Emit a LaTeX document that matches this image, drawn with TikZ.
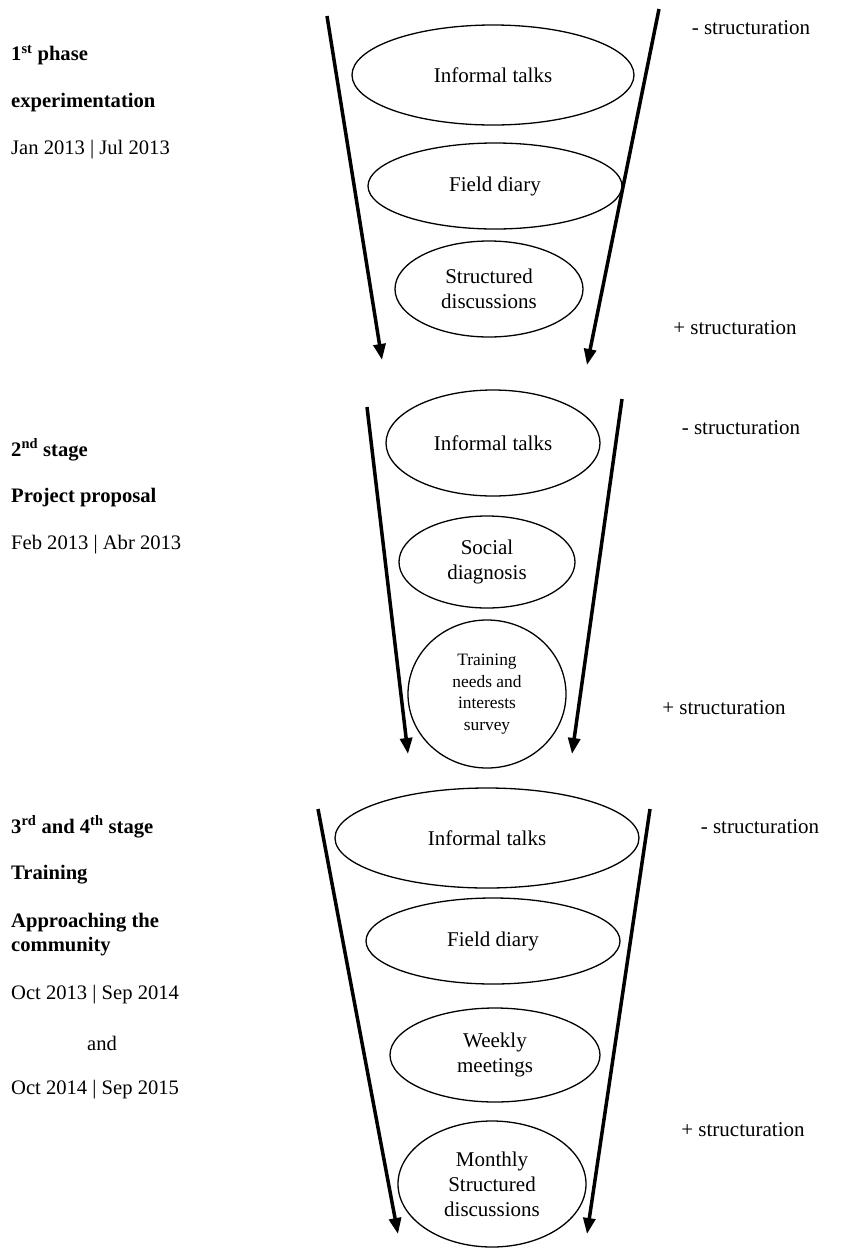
\documentclass[tikz,border=0pt]{standalone}
\usepackage{fontspec}
\setmainfont{Liberation Serif}
\usetikzlibrary{shapes.geometric,arrows.meta}
\begin{document}
\begin{tikzpicture}[x=1pt,y=-1pt,
 stage/.style={ellipse,draw,line width=1.3pt,inner sep=0pt,align=center,font=\fontsize{21}{25}\selectfont},
 small/.style={font=\fontsize{17.4}{21.6}\selectfont},
 flow/.style={line width=3.5pt,-{Triangle[length=16pt,width=12pt]}},
 lbl/.style={anchor=west,inner sep=0pt,align=left,font=\fontsize{20.6}{24}\selectfont},
 lblb/.style={lbl,font=\fontsize{20.6}{24}\selectfont\bfseries},
 side/.style={inner sep=0pt,font=\fontsize{21}{25}\selectfont}]
\useasboundingbox (0,0) rectangle (860,1248);

% ---------- Section 1 ----------
\node[lblb] (t1a) at (11,55) {1\textsuperscript{st} phase};
\node[lblb] (t1b) at (11,103) {experimentation};
\node[lbl] (t1c) at (11,150) {Jan 2013 | Jul 2013};

\node[stage,minimum width=282pt,minimum height=100pt] (a1) at (493,75) {Informal talks};
\node[stage,minimum width=254pt,minimum height=86pt] (a2) at (495,186) {Field diary};
\node[stage,minimum width=188pt,minimum height=96pt] (a3) at (489,289) {Structured\\discussions};

\coordinate (l1s) at (327,16);
\coordinate (l1e) at (382,360);
\coordinate (r1s) at (659,9);
\coordinate (r1e) at (587,365);
\draw[flow] (l1s) -- (l1e);
\draw[flow] (r1s) -- (r1e);

\node[side] (s1m) at (751,28) {- structuration};
\node[side] (s1p) at (735,328) {+ structuration};

% ---------- Section 2 ----------
\node[lblb] (t2a) at (11,450) {2\textsuperscript{nd} stage};
\node[lblb] (t2b) at (11,498) {Project proposal};
\node[lbl] (t2c) at (11,545) {Feb 2013 | Abr 2013};

\node[stage,minimum width=214pt,minimum height=106pt] (b1) at (493,443) {Informal talks};
\node[stage,minimum width=176pt,minimum height=92pt] (b2) at (487,562) {Social\\diagnosis};
\node[stage,small,minimum width=158pt,minimum height=148pt] (b3) at (487,694) {Training\\needs and\\interests\\survey};

\coordinate (l2s) at (367,407);
\coordinate (l2e) at (408,754);
\coordinate (r2s) at (622,399);
\coordinate (r2e) at (572,754);
\draw[flow] (l2s) -- (l2e);
\draw[flow] (r2s) -- (r2e);

\node[side] (s2m) at (741,428) {- structuration};
\node[side] (s2p) at (724,708) {+ structuration};

% ---------- Section 3 ----------
\node[lblb] (t3a) at (11,827) {3\textsuperscript{rd} and 4\textsuperscript{th} stage};
\node[lblb] (t3b) at (11,875) {Training};
\node[lblb] (t3c) at (11,935) {Approaching the\\community};
\node[lbl] (t3d) at (11,995) {Oct 2013 | Sep 2014};
\node[inner sep=0pt,font=\fontsize{20.6}{24}\selectfont] (t3e) at (102,1043) {and};
\node[lbl] (t3f) at (11,1090) {Oct 2014 | Sep 2015};

\node[stage,minimum width=304pt,minimum height=100pt] (c1) at (487,838) {Informal talks};
\node[stage,minimum width=254pt,minimum height=86pt] (c2) at (493,941) {Field diary};
\node[stage,minimum width=210pt,minimum height=94pt] (c3) at (495,1055) {Weekly\\meetings};
\node[stage,minimum width=188pt,minimum height=126pt] (c4) at (492,1184) {Monthly\\Structured\\discussions};

\coordinate (l3s) at (318,809);
\coordinate (l3e) at (398,1234);
\coordinate (r3s) at (650,809);
\coordinate (r3e) at (587,1234);
\draw[flow] (l3s) -- (l3e);
\draw[flow] (r3s) -- (r3e);

\node[side] (s3m) at (760,827) {- structuration};
\node[side] (s3p) at (743,1130) {+ structuration};
\end{tikzpicture}
\end{document}
